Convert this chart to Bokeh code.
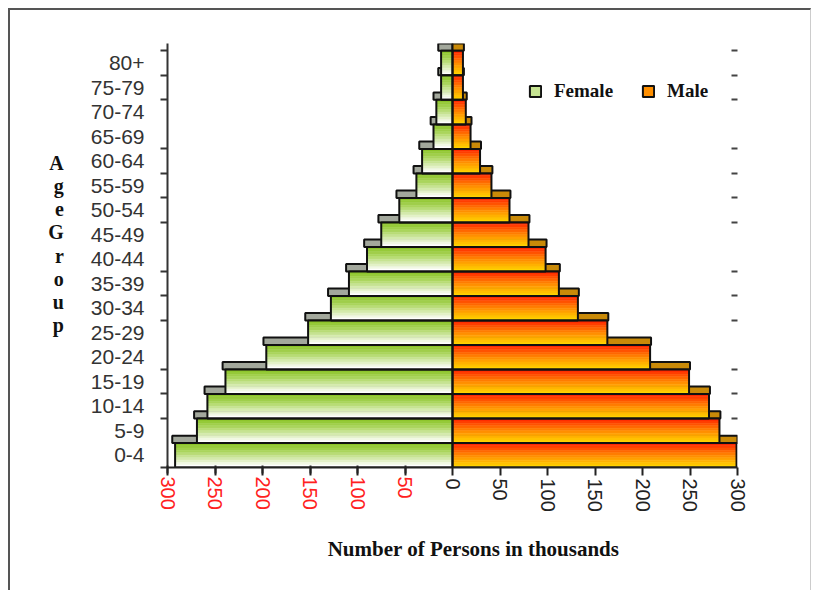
from bokeh.plotting import figure
from bokeh.layouts import column
from bokeh.models import (ColumnDataSource, FixedTicker, LinearAxis, Legend,
                          LegendItem, Range1d)
from bokeh.embed import file_html
from bokeh.resources import INLINE

# ---------------- data ----------------
age_groups = ["0-4", "5-9", "10-14", "15-19", "20-24", "25-29", "30-34",
              "35-39", "40-44", "45-49", "50-54", "55-59", "60-64", "65-69",
              "70-74", "75-79", "80+"]
female = [292, 269, 258, 239, 196, 152, 128, 109, 90, 75, 56, 38, 32, 20, 17, 12, 12]
male = [299, 281, 270, 249, 208, 163, 132, 112, 98, 80, 60, 41, 29, 19, 14, 11, 11]
pos_ticks = [0, 50, 100, 150, 200, 250, 300]
neg_ticks = [-300, -250, -200, -150, -100, -50]
neg_tick_labels = ["300", "250", "200", "150", "100", "50"]
left_tick_marks = [0, 2, 3, 4, 6, 7, 8, 10, 11, 12, 13, 15, 16, 17]
right_tick_marks = [2, 3, 4, 6, 7, 8, 10, 11, 12, 13, 15, 16, 17]

# ---------------- styling helpers ----------------
N_SLICES = 10
fem_stops = [(0.0, (140, 196, 40)), (0.35, (172, 214, 95)), (1.0, (255, 255, 255))]
male_stops = [(0.0, (255, 40, 0)), (0.5, (255, 135, 0)), (1.0, (255, 210, 0))]


def grad(stops, t):
    for (t0, c0), (t1, c1) in zip(stops[:-1], stops[1:]):
        if t <= t1:
            u = (t - t0) / (t1 - t0) if t1 > t0 else 0
            c = [round(a + (b - a) * u) for a, b in zip(c0, c1)]
            return "#%02x%02x%02x" % tuple(c)
    return "#%02x%02x%02x" % stops[-1][1]


def slices(values, stops, sign):
    d = dict(y=[], left=[], right=[], h=[], color=[])
    for i, v in enumerate(values):
        for k in range(N_SLICES):
            d["y"].append(i + 1 - (k + 0.5) / N_SLICES)
            d["h"].append(1.0 / N_SLICES)
            if sign < 0:
                d["left"].append(-v)
                d["right"].append(0)
            else:
                d["left"].append(0)
                d["right"].append(v)
            d["color"].append(grad(stops, k / (N_SLICES - 1)))
    return ColumnDataSource(d)


ys = [i + 0.5 for i in range(len(age_groups))]
strip_y = [i + 1.15 for i in range(len(age_groups))]

W, H = 803, 582
xr = Range1d(-300, 300)
yr = Range1d(0, 17.3)
common = dict(width=W, height=H, x_range=xr, y_range=yr,
              output_backend="svg", toolbar_location=None,
              min_border_left=157, min_border_top=33, min_border_right=76,
              min_border_bottom=125)

p = figure(**common)
p.outline_line_color = None
p.grid.visible = False
p.background_fill_color = "white"
p.border_fill_color = "white"
p.styles = {"margin-left": "8px", "margin-top": "8px",
            "border-top": "2px solid #555555", "border-left": "2px solid #555555",
            "border-right": "1px solid #cccccc"}

# 3D top strips (drawn first, partly hidden by the bar above)
p.hbar(y=strip_y, height=0.3, left=[-v - 3 for v in female], right=0,
       fill_color="#a3a89c", line_color="#111111", line_width=2)
p.hbar(y=strip_y, height=0.3, left=0, right=[v + 1 for v in male],
       fill_color="#c98a08", line_color="#111111", line_width=2)

# gradient faces
fsrc = slices(female, fem_stops, -1)
msrc = slices(male, male_stops, 1)
f_face = p.hbar(y="y", height="h", left="left", right="right", source=fsrc,
                fill_color="color", line_color="color", line_width=0.6)
m_face = p.hbar(y="y", height="h", left="left", right="right", source=msrc,
                fill_color="color", line_color="color", line_width=0.6)

# outlines
f_out = p.hbar(y=ys, height=1.0, left=[-v for v in female], right=0,
               fill_color=None, line_color="#111111", line_width=2)
m_out = p.hbar(y=ys, height=1.0, left=0, right=male,
               fill_color=None, line_color="#111111", line_width=2)

# ---------------- axes ----------------
xa = p.xaxis[0]
xa.ticker = FixedTicker(ticks=pos_ticks, minor_ticks=neg_ticks)
xa.major_label_orientation = "vertical"
xa.major_label_text_font = "Liberation Sans"
xa.major_label_text_font_size = "20px"
xa.major_label_text_color = "#222222"
xa.major_label_standoff = 3
xa.major_tick_out = 8
xa.major_tick_in = 0
xa.major_tick_line_width = 2
xa.major_tick_line_color = "#222222"
xa.minor_tick_out = 8
xa.minor_tick_in = 0
xa.minor_tick_line_width = 2
xa.minor_tick_line_color = "#222222"
xa.axis_line_width = 2
xa.axis_line_color = "#222222"
xa.axis_label = "\u00a0" * 8 + "Number of Persons in thousands"
xa.axis_label_text_font = "Liberation Serif"
xa.axis_label_text_font_style = "bold"
xa.axis_label_text_font_size = "21px"
xa.axis_label_text_color = "#111111"
xa.axis_label_standoff = 22

ya = p.yaxis[0]
ya.ticker = FixedTicker(ticks=ys, minor_ticks=left_tick_marks)
ya.major_label_overrides = {y: g for y, g in zip(ys, age_groups)}
ya.major_tick_out = 0
ya.major_tick_in = 0
ya.minor_tick_out = 7
ya.minor_tick_in = 0
ya.minor_tick_line_width = 2
ya.minor_tick_line_color = "#333333"
ya.major_label_standoff = 16
ya.major_label_text_font = "Liberation Sans"
ya.major_label_text_font_size = "21px"
ya.major_label_text_color = "#333333"
ya.axis_line_width = 2
ya.axis_line_color = "#333333"
ya.axis_label = "A\ng\ne\nG\nr\no\nu\np\n "
ya.axis_label_orientation = "horizontal"
ya.axis_label_text_font = "Liberation Serif"
ya.axis_label_text_font_style = "bold"
ya.axis_label_text_font_size = "20px"
ya.axis_label_text_line_height = 1.05
ya.axis_label_text_color = "#111111"
ya.axis_label_standoff = 24

ra = LinearAxis(ticker=FixedTicker(ticks=[], minor_ticks=right_tick_marks))
ra.axis_line_color = None
ra.major_tick_in = 0
ra.major_tick_out = 0
ra.minor_tick_in = 6
ra.minor_tick_out = 0
ra.minor_tick_line_width = 2
ra.minor_tick_line_color = "#444444"
p.add_layout(ra, "right")

# ---------------- legend ----------------
legend = Legend(items=[LegendItem(label="Female", renderers=[f_face, f_out], index=5),
                       LegendItem(label="Male", renderers=[m_face, m_out], index=5)],
                location=(361, 365), orientation="horizontal")
legend.background_fill_alpha = 0
legend.border_line_color = None
legend.padding = 0
legend.margin = 0
legend.spacing = 28
legend.label_standoff = 12
legend.glyph_width = 14
legend.glyph_height = 14
legend.label_height = 20
legend.label_text_font = "Liberation Serif"
legend.label_text_font_style = "bold"
legend.label_text_font_size = "19px"
legend.label_text_color = "#111111"
p.add_layout(legend)

# ---------------- transparent overlay carrying the red (female side) tick labels ----------------
q = figure(y_axis_location=None, **common)
q.outline_line_color = None
q.grid.visible = False
q.background_fill_color = None
q.border_fill_color = None
q.styles = {"margin-left": "8px", "margin-top": "-%dpx" % (H + 2),
            "border-top": "2px solid transparent", "border-left": "2px solid transparent"}
qa = q.xaxis[0]
qa.ticker = FixedTicker(ticks=neg_ticks)
qa.major_label_overrides = {t: s for t, s in zip(neg_ticks, neg_tick_labels)}
qa.major_label_orientation = "vertical"
qa.major_label_text_font = "Liberation Sans"
qa.major_label_text_font_size = "20px"
qa.major_label_text_color = "#ff2020"
qa.major_label_standoff = 3
qa.major_tick_out = 8
qa.major_tick_in = 0
qa.major_tick_line_width = 2
qa.major_tick_line_color = "#222222"
qa.minor_tick_out = 0
qa.minor_tick_in = 0
qa.axis_line_color = None

layout = column(p, q)
open("out.html", "w").write(file_html(layout, INLINE))
